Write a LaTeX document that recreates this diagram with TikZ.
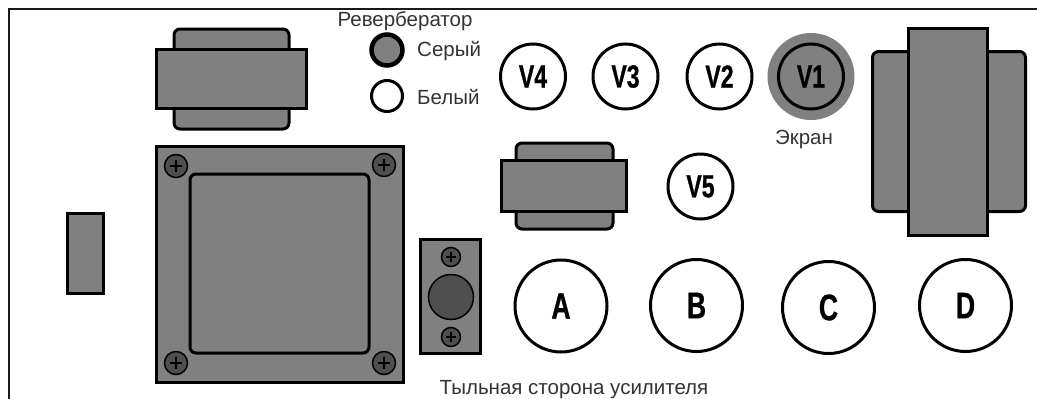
\documentclass[tikz,border=0pt]{standalone}
\usepackage{fontspec}
\setmainfont{Liberation Sans}
\newfontfamily\narrowfont[FakeStretch=0.72, FakeBold=0.7]{Liberation Sans Bold}
\tikzset{
    body/.style={draw=black, fill=panelgrey, line width=3pt},
    roundbody/.style={body, rounded corners=6pt},
    tube/.style={circle, draw=black, fill=white, line width=3pt, inner sep=0pt, minimum size=65pt, font=\narrowfont\fontsize{32pt}{32pt}\selectfont},
    socket/.style={tube, minimum size=92pt, font=\narrowfont\fontsize{37pt}{37pt}\selectfont},
    caption/.style={inner sep=0pt, text=black!80, font=\fontsize{20.5pt}{24pt}\selectfont},
}
\definecolor{panelgrey}{gray}{0.5}
\definecolor{screwgrey}{gray}{0.31}
\begin{document}
\begin{tikzpicture}[x=1pt, y=-1pt]
    \def\screw#1#2#3{%
        \draw[shift={(#1,#2)}, fill=screwgrey, line width=1.5pt] (0,0) circle (#3);
        \draw[shift={(#1,#2)}, line width=1.1pt] (-#3*0.55,0) -- (#3*0.55,0) (0,-#3*0.55) -- (0,#3*0.55);
    }

    \def\transformer#1#2#3#4#5#6#7#8{%
        \draw[roundbody] (#1,#2) rectangle (#3,#4);
        \draw[body] (#5,#6) rectangle (#7,#8);
    }

    \useasboundingbox (0,0) rectangle (1037,399);
    \draw[line width=2pt, black!90] (9,399) -- (9,9) -- (1037,9);

    \transformer{174}{29}{289}{129}{156}{49}{306}{108}
    \transformer{516}{143}{613}{229}{501.5}{160.5}{626.5}{211.5}
    \draw[roundbody] (872.5,51.5) rectangle (1025.5,211.5);
    \draw[body] (908.5,28.5) rectangle (987.5,235.5);

    \draw[body] (67.5,213.5) rectangle (103.5,293.5);

    \draw[body] (156,146) rectangle (403,382);
    \draw[roundbody] (190,174) rectangle (369,353);
    \screw{176}{166}{11.5}
    \screw{384}{165}{11.5}
    \screw{176}{363}{11.5}
    \screw{384}{363}{11.5}

    \draw[body] (420.5,239.5) rectangle (480.5,353.5);
    \screw{451}{257}{9.5}
    \screw{451}{337}{9.5}
    \draw[fill=screwgrey, line width=1.5pt] (451,297) circle (22.5);

    \node[circle, draw=black, fill=panelgrey, line width=4.5pt, minimum size=31pt, inner sep=0pt] (grey) at (387,50) {};
    \node[circle, draw=black, fill=white, line width=3pt, minimum size=31pt, inner sep=0pt] (white) at (387,96) {};
    \node[caption] (reverb) at (405,21) {Ревербератор};
    \node[caption, anchor=west] (greytext) at (417,51) {Серый};
    \node[caption, anchor=west] (whitetext) at (417,97) {Белый};

    \fill[panelgrey] (811,76.5) circle (43.5);
    \node[tube, fill=panelgrey] (v1) at (811,76.5) {V1};
    \node[tube] (v2) at (719.5,76.5) {V2};
    \node[tube] (v3) at (625.5,76.5) {V3};
    \node[tube] (v4) at (533,76.5) {V4};
    \node[tube] (v5) at (700.5,186.5) {V5};
    \node[caption] (screen) at (804,139) {Экран};

    \node[socket] (a) at (561,306) {A};
    \node[socket] (b) at (696.5,305.5) {B};
    \node[socket] (c) at (828.5,307.5) {C};
    \node[socket] (d) at (965.5,305.5) {D};

    \node[caption] (rear) at (574,390) {Тыльная сторона усилителя};
\end{tikzpicture}
\end{document}
